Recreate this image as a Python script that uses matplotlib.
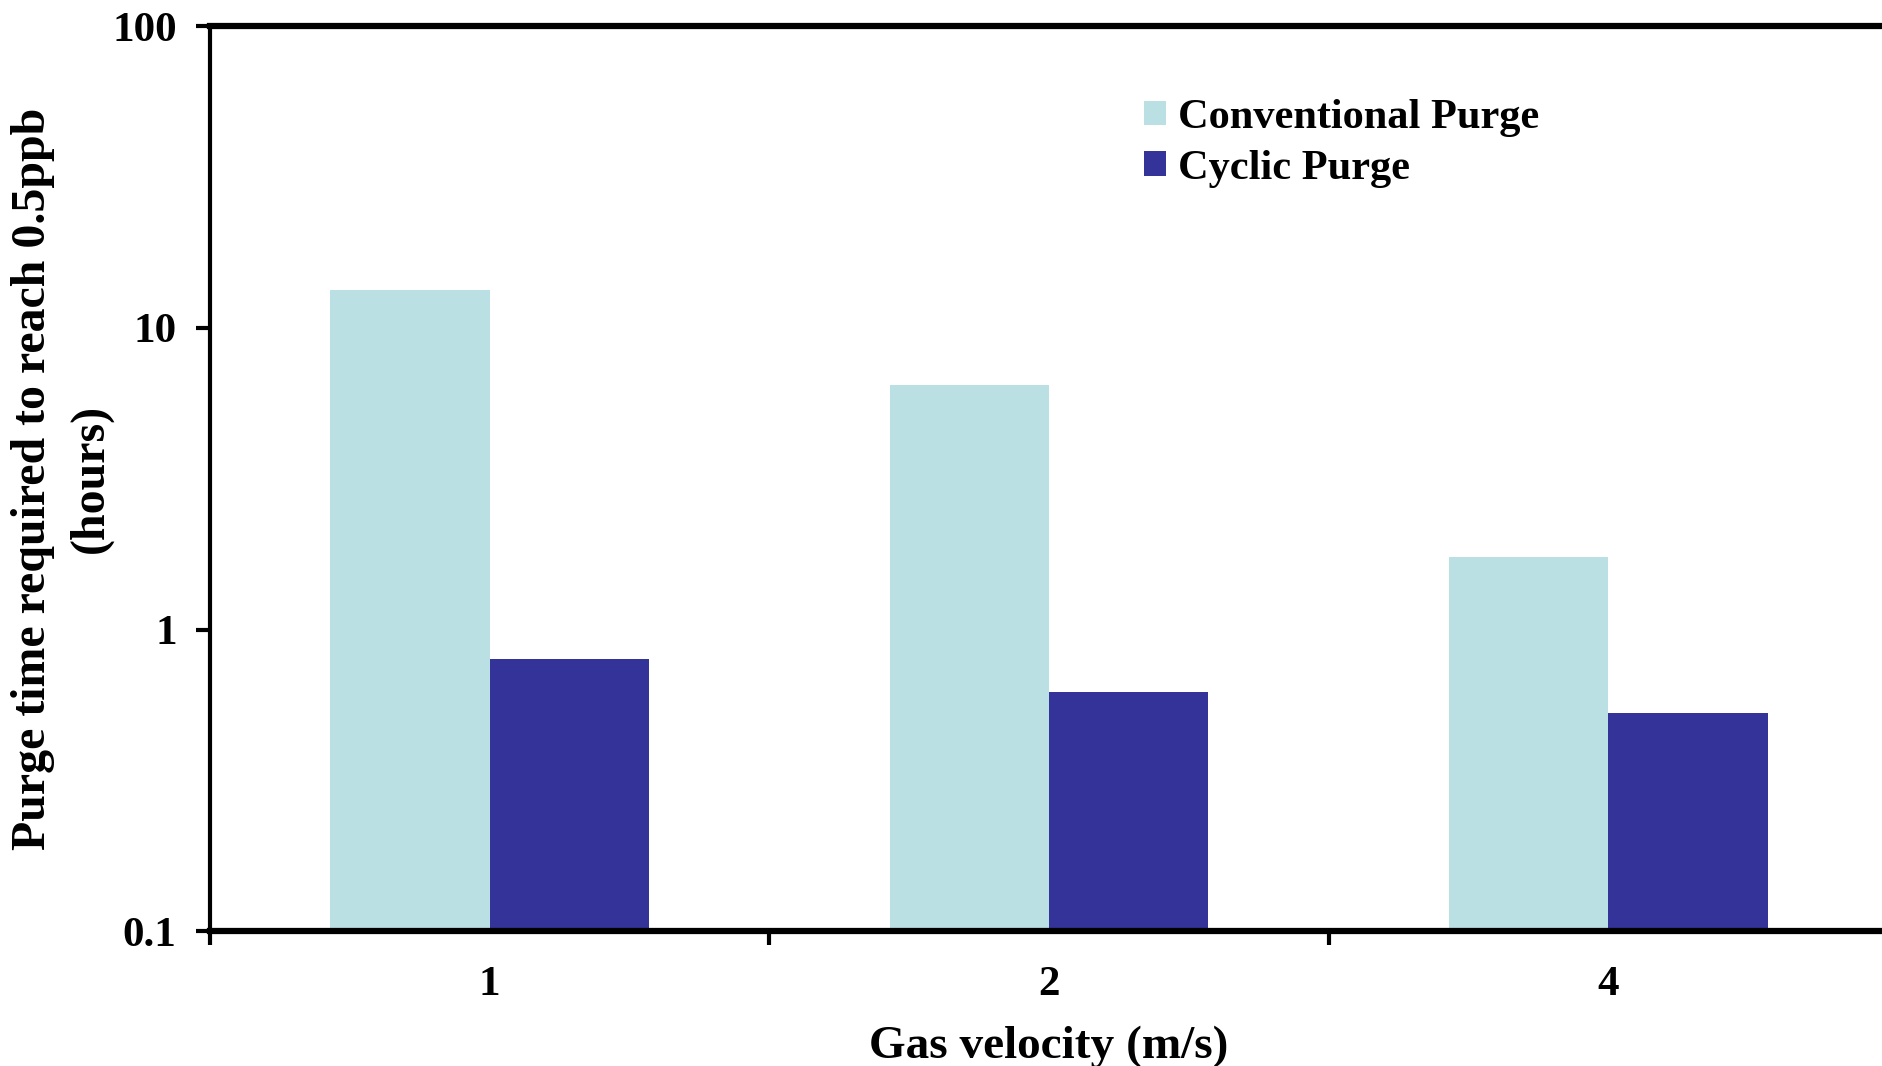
import matplotlib

matplotlib.use("Agg")
import matplotlib.pyplot as plt
import numpy as np

velocities = ["1", "2", "4"]
conventional_hours = [13.4, 6.46, 1.74]
cyclic_hours = [0.80, 0.62, 0.53]

plt.rcParams["font.family"] = ["Liberation Serif", "DejaVu Serif"]
plt.rcParams["font.weight"] = "bold"

fig = plt.figure(figsize=(18.82, 10.66), dpi=100)
ax = fig.add_axes([0.1116, 0.1266, 0.8915, 0.8486])

x = np.arange(len(velocities))
width = 0.285
ax.bar(x - width / 2, conventional_hours, width, color="#BBE0E3", label="Conventional Purge")
ax.bar(x + width / 2, cyclic_hours, width, color="#343399", label="Cyclic Purge")

ax.set_yscale("log")
ax.set_ylim(0.1, 100)
ax.set_xlim(-0.5, len(velocities) - 0.5)
ax.set_yticks([0.1, 1, 10, 100])
ax.set_yticklabels(["0.1", "1", "10", "100"])
ax.yaxis.set_minor_locator(matplotlib.ticker.NullLocator())

# category labels sit between the boundary ticks
ax.set_xticks(np.arange(len(velocities) + 1) - 0.5)
ax.set_xticklabels([])
ax.set_xticks(x, minor=True)
ax.set_xticklabels(velocities, minor=True)
ax.tick_params(axis="x", which="major", direction="out", length=10, width=3)
ax.tick_params(axis="x", which="minor", length=0, pad=25, labelsize=31)
ax.tick_params(axis="y", which="major", direction="out", length=10, width=3, labelsize=31, pad=14)

for side in ("top", "bottom"):
    ax.spines[side].set_linewidth(4.5)
ax.spines["left"].set_linewidth(3)
ax.spines["right"].set_visible(False)

ax.set_xlabel("Gas velocity (m/s)", fontsize=34, fontweight="bold", labelpad=16)
ax.set_ylabel("Purge time required to reach 0.5ppb\n(hours)", fontsize=34.5,
              fontweight="bold", linespacing=1.4, va="center")
ax.yaxis.set_label_coords(-0.0883, 0.5)

ax.legend(loc="upper left", bbox_to_anchor=(0.534, 0.962), frameon=False,
          fontsize=30.5, handlelength=0.52, handleheight=0.52, handletextpad=0.28,
          labelspacing=0.3)

fig.savefig("out.png", dpi=100)
